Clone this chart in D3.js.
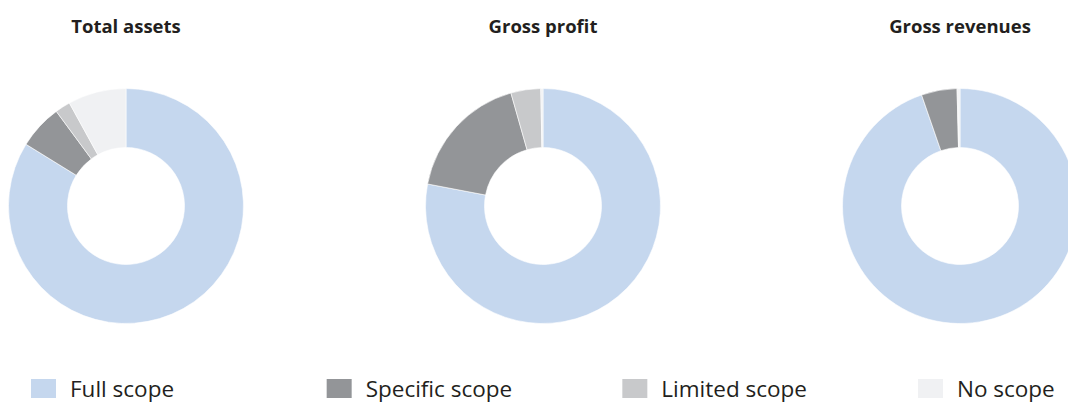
<!DOCTYPE html>
<html>
<head>
<meta charset="utf-8">
<script src="https://cdn.jsdelivr.net/npm/d3@7"></script>
<style>
  html, body { margin: 0; padding: 0; background: #fff; overflow: hidden; }
  svg { display: block; }
</style>
</head>
<body>
<svg id="chart" width="1068" height="403"></svg>
<script>
const categories = ["Full scope", "Specific scope", "Limited scope", "No scope"];
const charts = ["Total assets", "Gross profit", "Gross revenues"];
const totalAssets = [83.8, 6.1, 2.1, 8.0];
const grossProfit = [78.0, 17.6, 4.1, 0.3];
const grossRevenues = [94.7, 4.9, 0.1, 0.3];
const seriesValues = [totalAssets, grossProfit, grossRevenues];
const colors = ["#c5d7ee", "#939598", "#c8c9cb", "#f0f1f3"];

const svg = d3.select("#chart");
const color = d3.scaleOrdinal().domain(categories).range(colors);
const xPos = d3.scalePoint().domain(charts).range([126, 960]);
const cy = 206, outerR = 117.5, innerR = 58.5;

const pie = d3.pie().sort(null).value(d => d.v);
const arc = d3.arc().innerRadius(innerR).outerRadius(outerR);

charts.forEach((name, i) => {
  const g = svg.append("g").attr("transform", `translate(${xPos(name)},${cy})`);
  const data = categories.map((c, j) => ({ c, v: seriesValues[i][j] }));
  g.selectAll("path").data(pie(data)).join("path")
    .attr("d", arc)
    .attr("fill", d => color(d.data.c))
    .attr("stroke", "#ffffff")
    .attr("stroke-width", 0.6);
  svg.append("text")
    .attr("x", xPos(name)).attr("y", 33)
    .attr("text-anchor", "middle")
    .attr("font-family", "'Open Sans', sans-serif")
    .attr("font-weight", "bold")
    .attr("font-size", 18.5)
    .attr("fill", "#231f20")
    .text(name);
});

const legendX = d3.scalePoint().domain(categories).range([31, 918]);
const lg = svg.selectAll("g.legend").data(categories).join("g")
  .attr("class", "legend")
  .attr("transform", d => `translate(${legendX(d)},379)`);
lg.append("rect").attr("width", 25).attr("height", 19).attr("fill", d => color(d));
lg.append("text")
  .attr("x", 39).attr("y", 18)
  .attr("font-family", "'Open Sans', sans-serif")
  .attr("font-size", 22.5)
  .attr("fill", "#231f20")
  .text(d => d);
</script>
</body>
</html>
